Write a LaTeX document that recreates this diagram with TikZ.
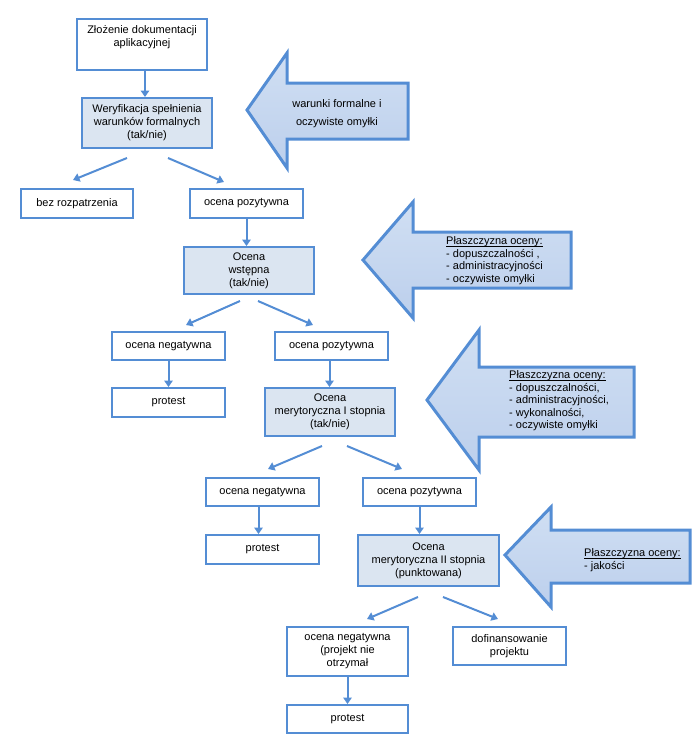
\documentclass[tikz,border=0pt]{standalone}
\usepackage{fontspec}
\setmainfont{Liberation Sans}
\usetikzlibrary{arrows.meta}
\definecolor{bord}{RGB}{84,141,212}
\definecolor{boxfill}{RGB}{219,229,241}
\definecolor{arrtop}{RGB}{208,223,243}
\definecolor{arrbot}{RGB}{188,207,236}
\newcommand\ulx[1]{\setbox0\hbox{#1}\rlap{\rule[-1.6pt]{\wd0}{0.6pt}}\box0}
\tikzset{
 box/.style={draw=bord, line width=2pt, fill=white, align=center, font=\fontsize{11}{13}\selectfont, inner sep=1pt},
 filledbox/.style={box, fill=boxfill},
 conn/.style={draw=bord, line width=2pt, -{Triangle[length=6.5pt,width=8.5pt]}},
 bigarrow/.style={draw=bord, line width=3pt, top color=arrtop, bottom color=arrbot, line join=miter},
 atxt/.style={font=\fontsize{11}{12.5}\selectfont, align=left, anchor=west, inner sep=0pt},
 ctxt/.style={font=\fontsize{11}{13}\selectfont, align=center, inner sep=0pt},
}
\begin{document}
\begin{tikzpicture}[x=1pt,y=-1pt]
\useasboundingbox (0,0) rectangle (699,745);
% big arrows
\draw[bigarrow] (247,110) -- (287,53) -- (287,83) -- (408,83) -- (408,139) -- (287,139) -- (287,168) -- cycle;
\node[ctxt, font=\fontsize{11}{18}\selectfont] (t1) at (337,114) {warunki formalne i\\oczywiste omyłki};
\draw[bigarrow] (363,260) -- (413,202) -- (413,232) -- (571,232) -- (571,288) -- (413,288) -- (413,318) -- cycle;
\node[atxt] (t2) at (446,260.5) {\ulx{Płaszczyzna oceny:}\\- dopuszczalności ,\\- administracyjności\\- oczywiste omyłki};
\draw[bigarrow] (427,400) -- (479,330) -- (479,367) -- (634,367) -- (634,437) -- (479,437) -- (479,470) -- cycle;
\node[atxt] (t3) at (509,401) {\ulx{Płaszczyzna oceny:}\\- dopuszczalności,\\- administracyjności,\\- wykonalności,\\- oczywiste omyłki};
\draw[bigarrow] (505,555) -- (551,507) -- (551,530) -- (690,530) -- (690,583) -- (551,583) -- (551,607) -- cycle;
\node[atxt] (t4) at (584,560) {\ulx{Płaszczyzna oceny:}\\- jakości};
% boxes
\node[box, minimum width=130, minimum height=51] (b1) at (142,44.5) {};
\node[ctxt] (b1t) at (142,37) {Złożenie dokumentacji\\aplikacyjnej};
\node[filledbox, minimum width=130, minimum height=50] (b2) at (147,123) {Weryfikacja spełnienia\\warunków formalnych\\(tak/nie)};
\node[box, minimum width=112, minimum height=29] (bez) at (77,203.5) {bez rozpatrzenia};
\node[box, minimum width=113, minimum height=29] (pos1) at (246.5,203.5) {ocena pozytywna};
\node[filledbox, minimum width=130, minimum height=47] (wst) at (249,270.5) {Ocena\\wstępna\\(tak/nie)};
\node[box, minimum width=113, minimum height=28] (neg1) at (168.5,346) {ocena negatywna};
\node[box, minimum width=113, minimum height=28] (pos2) at (331.5,346) {ocena pozytywna};
\node[box, minimum width=113, minimum height=29] (prot1) at (168.5,402.5) {protest};
\node[filledbox, minimum width=130, minimum height=48] (m1) at (330,412) {Ocena\\merytoryczna I stopnia\\(tak/nie)};
\node[box, minimum width=113, minimum height=28] (neg2) at (262.5,492) {ocena negatywna};
\node[box, minimum width=113, minimum height=28] (pos3) at (419.5,492) {ocena pozytywna};
\node[box, minimum width=113, minimum height=29] (prot2) at (262.5,549.5) {protest};
\node[filledbox, minimum width=141, minimum height=51] (m2) at (428.5,560.5) {Ocena\\merytoryczna II stopnia\\(punktowana)};
\node[box, minimum width=121, minimum height=49] (neg3) at (347.5,651.5) {ocena negatywna\\(projekt nie\\otrzymał};
\node[box, minimum width=113, minimum height=38] (dof) at (509.5,646) {dofinansowanie\\projektu};
\node[box, minimum width=121, minimum height=28] (prot3) at (347.5,719) {protest};
% connectors
\draw[conn] ([xshift=3]b1.south) -- ([xshift=3]b1.south |- b2.north);
\draw[conn] ([shift={(-20,9)}]b2.south) -- ([shift={(-4,-8)}]bez.north);
\draw[conn] ([shift={(21,9)}]b2.south) -- ([shift={(-22.5,-6)}]pos1.north);
\draw[conn] (pos1.south) -- (pos1.south |- wst.north);
\draw[conn] ([shift={(-9,6)}]wst.south) -- ([shift={(17.5,-6)}]neg1.north);
\draw[conn] ([shift={(9,6)}]wst.south) -- ([shift={(-18.5,-6)}]pos2.north);
\draw[conn] (neg1.south) -- (neg1.south |- prot1.north);
\draw[conn] ([xshift=-2]pos2.south) -- ([xshift=-2]pos2.south |- m1.north);
\draw[conn] ([shift={(-8,9)}]m1.south) -- ([shift={(5.5,-8)}]neg2.north);
\draw[conn] ([shift={(17,9)}]m1.south) -- ([shift={(-17.5,-8)}]pos3.north);
\draw[conn] ([xshift=-4]neg2.south) -- ([xshift=-4]neg2.south |- prot2.north);
\draw[conn] (pos3.south) -- (pos3.south |- m2.north);
\draw[conn] ([shift={(-10.5,10)}]m2.south) -- ([shift={(19.5,-7)}]neg3.north);
\draw[conn] ([shift={(14.5,10)}]m2.south) -- ([shift={(-11.5,-7)}]dof.north);
\draw[conn] (neg3.south) -- (neg3.south |- prot3.north);
\end{tikzpicture}
\end{document}
